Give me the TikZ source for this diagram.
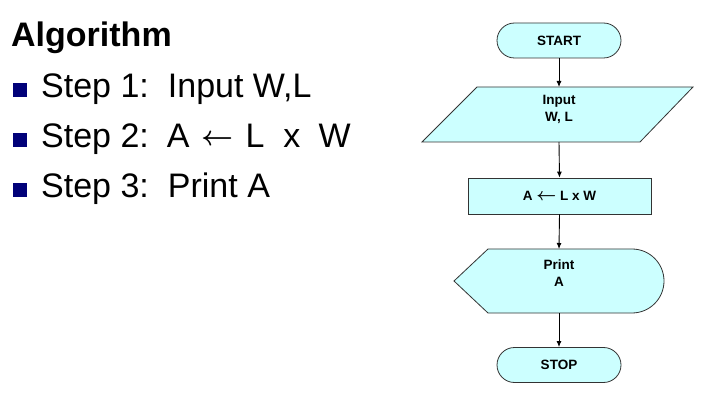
\documentclass[tikz,border=0pt]{standalone}
\usepackage{fontspec}
\usepackage{graphicx}
\setmainfont{Liberation Sans}
\usetikzlibrary{shapes.misc,arrows.meta}
\definecolor{fc}{RGB}{204,255,255}
\definecolor{bul}{RGB}{0,0,120}
\newcommand{\bigarrowL}[1]{\resizebox{#1}{!}{\boldmath$\leftarrow$}}
\begin{document}
\begin{tikzpicture}[x=1pt,y=-1pt,
  shapeline/.style={draw=black!80,line width=0.8pt,fill=fc},
  lbl/.style={font=\fontsize{13.5}{17}\selectfont\bfseries,align=center,inner sep=0pt},
  term/.style={rounded rectangle,shapeline,minimum width=124pt,minimum height=35pt,lbl},
  anchorbox/.style={inner sep=0pt,outer sep=0pt},
  conn/.style={draw=black,line width=0.9pt,-{Latex[length=6pt,width=5pt]}},
  steptext/.style={font=\fontsize{34}{40}\selectfont,anchor=base west,inner sep=0pt},
  bulletbox/.style={fill=bul,minimum width=14pt,minimum height=14pt,inner sep=0pt,anchor=south west}
]
\useasboundingbox (0,0) rectangle (721,417);
\fill[white] (0,0) rectangle (721,417);

% left text
\node[font=\fontsize{34}{40}\selectfont\bfseries,anchor=base west,inner sep=0pt] (title) at (11,47) {Algorithm};
\node[bulletbox] (b1) at (13,97) {};
\node[bulletbox] (b2) at (13,147) {};
\node[bulletbox] (b3) at (13,197) {};
\node[steptext] (s1) at (41,98) {Step 1:\hspace{19pt}Input W,L};
\node[steptext] (s2) at (41,148) {Step 2:\hspace{18pt}A\hspace{12pt}\raisebox{2pt}{\bigarrowL{32pt}}\hspace{12pt}L\hspace{19pt}x\hspace{18pt}W};
\node[steptext] (s3) at (41,198) {Step 3:\hspace{19pt}Print A};

% flowchart
\node[term] (start) at (559,40.5) {START};

\node[anchorbox,minimum width=216pt,minimum height=55pt] (inp) at (559,114.5) {};
\draw[shapeline] (477,87) -- (693,87) -- (640,142) -- (422,142) -- cycle;
\node[lbl] (inptext) at (559,109) {Input\\W, L};

\node[rectangle,shapeline,minimum width=183pt,minimum height=36pt,lbl] (calc) at (559.5,196) {A \raisebox{0.5pt}{\bigarrowL{20pt}} L x W};

\node[anchorbox,minimum width=210pt,minimum height=64pt] (prt) at (559,281) {};
\draw[shapeline] (454,281) -- (488,249) -- (632,249) arc (-90:90:32) -- (488,313) -- cycle;
\node[lbl] (prttext) at (559,273) {Print\\A};

\node[term] (stop) at (559,365) {STOP};

\draw[conn] (start.south) -- (inp.north);
\draw[conn] (inp.south) -- (calc.north);
\draw[conn] (calc.south) -- (prt.north);
\draw[conn] (prt.south) -- (stop.north);
\end{tikzpicture}
\end{document}
